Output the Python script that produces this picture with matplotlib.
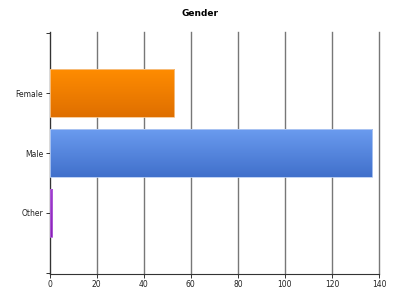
import matplotlib
matplotlib.use('Agg')
import matplotlib.pyplot as plt
import numpy as np
from matplotlib.colors import LinearSegmentedColormap

# data
categories = ['Female', 'Male', 'Other']
counts = [53, 137, 1]
top_colors = ['#ff8c00', '#6a9bef', '#a040d0']
bottom_colors = ['#df6f00', '#4170cb', '#8a20b5']
edge_colors = ['#f5c590', '#b5cbf2', '#b060d8']
x_ticks = [0, 20, 40, 60, 80, 100, 120, 140]

fig = plt.figure(figsize=(4, 3), dpi=100)
ax = fig.add_axes([0.124, 0.087, 0.8235, 0.806])

grad = np.linspace(0, 1, 64).reshape(-1, 1)
h = 0.8
for i, (v, c1, c2, ec) in enumerate(zip(counts, top_colors, bottom_colors, edge_colors)):
    cmap = LinearSegmentedColormap.from_list('g%d' % i, [c1, c2])
    ax.imshow(grad, cmap=cmap, aspect='auto', extent=(0, v, i + h / 2, i - h / 2),
              zorder=3, interpolation='bilinear')
    ax.barh(i, v, height=h, facecolor='none', edgecolor=ec, linewidth=0.6, zorder=4)

ax.set_xlim(0, 140)
ax.set_ylim(3.02, -1.02)
ax.set_xticks(x_ticks)
ax.set_yticks([-1, 0, 1, 2, 3])
ax.set_yticklabels([''] + categories + [''])
ax.tick_params(axis='both', labelsize=5.5, length=3, width=0.7, color='#333333',
               labelcolor='#222222', pad=1.5)
ax.xaxis.grid(True, color='#777777', linewidth=1.0, zorder=0)
for gl in ax.get_xgridlines():
    gl.set_clip_on(False)
ax.set_axisbelow(True)
for s in ['top', 'right']:
    ax.spines[s].set_visible(False)
for s in ['left', 'bottom']:
    ax.spines[s].set_color('#333333')
    ax.spines[s].set_linewidth(0.8)

fig.suptitle('Gender', fontsize=6.5, fontweight='bold', y=0.97)

fig.savefig('out.png', dpi=100)
